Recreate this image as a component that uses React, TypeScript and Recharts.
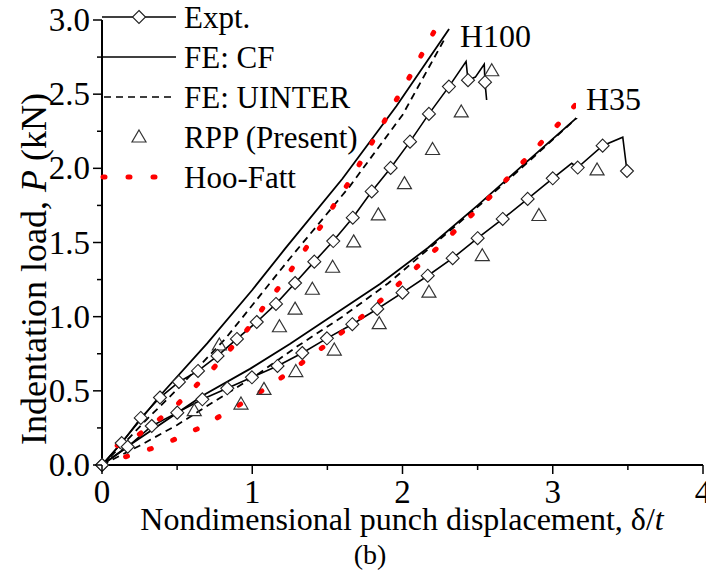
import React from 'react'
import { ComposedChart, Line, Scatter, XAxis, YAxis } from 'recharts'

type Pt = [number, number]

// H100 honeycomb
const h100ExptMarks: Pt[] = [
  [0, 0], [0.131, 0.148], [0.258, 0.317], [0.386, 0.455], [0.512, 0.56], [0.639, 0.634],
  [0.769, 0.735], [0.898, 0.85], [1.03, 0.964], [1.158, 1.086], [1.285, 1.227], [1.413, 1.371],
  [1.539, 1.51], [1.669, 1.667], [1.795, 1.844], [1.921, 2.003], [2.05, 2.18], [2.176, 2.367],
  [2.309, 2.551], [2.436, 2.594], [2.549, 2.581],
]
const h100ExptCurve: Pt[] = [
  [0, 0], [0.131, 0.148], [0.258, 0.317], [0.386, 0.455], [0.512, 0.56], [0.639, 0.634],
  [0.769, 0.735], [0.898, 0.85], [1.03, 0.964], [1.158, 1.086], [1.285, 1.227], [1.413, 1.371],
  [1.539, 1.51], [1.669, 1.667], [1.795, 1.844], [1.921, 2.003], [2.05, 2.18], [2.176, 2.367],
  [2.309, 2.551], [2.423, 2.72], [2.436, 2.594], [2.485, 2.615], [2.544, 2.702], [2.549, 2.581],
  [2.56, 2.461],
]
const h100CF: Pt[] = [
  [0, 0], [0.13, 0.15], [0.26, 0.31], [0.38, 0.46], [0.7, 0.82], [1.0, 1.18], [1.22, 1.46],
  [1.6, 1.93], [1.96, 2.42], [2.31, 2.94],
]
const h100Uinter: Pt[] = [
  [0, 0], [0.15, 0.15], [0.3, 0.31], [0.463, 0.472], [0.82, 0.85], [1.24, 1.38], [1.65, 1.88],
  [2.0, 2.36], [2.29, 2.89],
]
const h100RPP: Pt[] = [
  [0.781, 0.809], [1.181, 0.932], [1.285, 1.051], [1.4, 1.185], [1.535, 1.333], [1.675, 1.504],
  [1.839, 1.686], [2.013, 1.897], [2.2, 2.127], [2.391, 2.38], [2.594, 2.658],
]
const h100HooFatt: Pt[] = [
  [0, 0], [0.08, 0.12], [0.238, 0.2], [0.375, 0.303], [0.504, 0.411], [0.624, 0.533],
  [0.741, 0.652], [0.859, 0.787], [0.97, 0.917], [1.07, 1.057], [1.178, 1.198], [1.273, 1.337],
  [1.369, 1.479], [1.466, 1.623], [1.551, 1.764], [1.646, 1.91], [1.732, 2.061], [1.817, 2.208],
  [1.901, 2.356], [1.983, 2.506], [2.068, 2.652], [2.15, 2.81], [2.228, 2.955],
]

// H35 honeycomb
const h35ExptMarks: Pt[] = [
  [0, 0], [0.171, 0.123], [0.331, 0.263], [0.501, 0.353], [0.668, 0.443], [0.834, 0.517],
  [0.998, 0.591], [1.168, 0.668], [1.333, 0.755], [1.497, 0.854], [1.666, 0.949], [1.832, 1.052],
  [2.0, 1.162], [2.168, 1.276], [2.334, 1.394], [2.5, 1.529], [2.667, 1.659], [2.833, 1.794],
  [3.0, 1.933], [3.166, 2.005], [3.332, 2.153], [3.494, 1.982],
]
const h35ExptCurve: Pt[] = [
  [0, 0], [0.171, 0.123], [0.331, 0.263], [0.501, 0.353], [0.668, 0.443], [0.834, 0.517],
  [0.998, 0.591], [1.168, 0.668], [1.333, 0.755], [1.497, 0.854], [1.666, 0.949], [1.832, 1.052],
  [2.0, 1.162], [2.168, 1.276], [2.334, 1.394], [2.5, 1.529], [2.667, 1.659], [2.833, 1.794],
  [3.0, 1.933], [3.126, 2.034], [3.166, 2.005], [3.332, 2.153], [3.466, 2.21], [3.494, 1.982],
]
const h35CF: Pt[] = [
  [0, 0], [0.17, 0.125], [0.5, 0.35], [0.674, 0.47], [0.985, 0.648], [1.25, 0.815], [1.5, 0.985],
  [1.85, 1.22], [2.17, 1.465], [2.5, 1.75], [2.8, 2.02], [3.17, 2.35],
]
const h35Uinter: Pt[] = [
  [0, 0], [0.25, 0.13], [0.5, 0.27], [0.75, 0.43], [1.03, 0.607], [1.3, 0.8], [1.6, 1.0],
  [1.905, 1.225], [2.2, 1.48], [2.5, 1.74], [2.8, 2.01], [3.16, 2.34],
]
const h35RPP: Pt[] = [
  [0.614, 0.366], [0.925, 0.411], [1.078, 0.51], [1.29, 0.63], [1.546, 0.775], [1.845, 0.953],
  [2.176, 1.165], [2.531, 1.411], [2.908, 1.682], [3.295, 1.989],
]
const h35HooFatt: Pt[] = [
  [0, 0], [0.053, 0.022], [0.208, 0.072], [0.368, 0.123], [0.526, 0.191], [0.674, 0.263],
  [0.819, 0.349], [0.97, 0.438], [1.107, 0.528], [1.245, 0.625], [1.378, 0.724], [1.511, 0.825],
  [1.639, 0.928], [1.772, 1.034], [1.895, 1.146], [2.017, 1.259], [2.138, 1.376], [2.265, 1.495],
  [2.389, 1.618], [2.509, 1.731], [2.631, 1.859], [2.747, 1.984], [2.864, 2.109], [2.982, 2.237],
  [3.093, 2.36], [3.33, 2.64],
]

const xTicks = [0, 0.5, 1, 1.5, 2, 2.5, 3, 3.5, 4]
const yTicks = [0, 0.25, 0.5, 0.75, 1, 1.25, 1.5, 1.75, 2, 2.25, 2.5, 2.75, 3]
const legendNames = ['Expt.', 'FE: CF', 'FE: UINTER', 'RPP (Present)', 'Hoo-Fatt']

const rows = (pts: Pt[]) => pts.map(([x, y]) => ({ x, y }))
const FONT = "'Liberation Serif', 'Times New Roman', serif"
const RED_DOTS = { stroke: '#ff0000', strokeWidth: 5, strokeDasharray: '2 23', strokeLinecap: 'round' as const }

const diamondPath = (cx: number, cy: number, r = 6.5) =>
  `M${cx},${cy - r}L${cx + r},${cy}L${cx},${cy + r}L${cx - r},${cy}Z`
const trianglePath = (cx: number, cy: number) =>
  `M${cx},${cy - 7}L${cx + 7},${cy + 5}L${cx - 7},${cy + 5}Z`

const DiamondShape = (p: any) => <path d={diamondPath(p.cx, p.cy)} fill="#fff" stroke="#222" strokeWidth={1.1} />
const TriangleShape = (p: any) => <path d={trianglePath(p.cx, p.cy)} fill="none" stroke="#333" strokeWidth={1.2} />

const XTick = (p: any) => {
  const v = p.payload.value
  const major = Number.isInteger(v)
  return (
    <g>
      <line x1={p.x} x2={p.x} y1={p.y} y2={p.y + (major ? 9 : 5)} stroke="#000" strokeWidth={1.5} />
      {major && (
        <text x={p.x} y={p.y + 38} textAnchor="middle" fontSize={33} fontFamily={FONT} fill="#000">{v}</text>
      )}
    </g>
  )
}

const YTick = (p: any) => {
  const v = p.payload.value
  const major = Math.abs(v * 2 - Math.round(v * 2)) < 1e-6
  return (
    <g>
      <line x1={p.x} x2={p.x - (major ? 9 : 5)} y1={p.y} y2={p.y} stroke="#000" strokeWidth={1.5} />
      {major && (
        <text x={p.x - 12} y={p.y + 11} textAnchor="end" fontSize={33} fontFamily={FONT} fill="#000">{v.toFixed(1)}</text>
      )}
    </g>
  )
}

function Overlay() {
  const ly = [17, 57, 97, 137, 177]
  return (
    <svg width={706} height={575} style={{ position: 'absolute', left: 0, top: 0, pointerEvents: 'none' }}>
      <g fontFamily={FONT} fontSize={31} fill="#000">
        <line x1={102} x2={176} y1={ly[0]} y2={ly[0]} stroke="#000" strokeWidth={1.6} />
        <path d={diamondPath(139, ly[0])} fill="#fff" stroke="#222" strokeWidth={1.1} />
        <line x1={102} x2={176} y1={ly[1]} y2={ly[1]} stroke="#000" strokeWidth={1.6} />
        <line x1={104} x2={176} y1={ly[2]} y2={ly[2]} stroke="#000" strokeWidth={1.6} strokeDasharray="7 5" />
        <path d={trianglePath(139, ly[3])} fill="none" stroke="#333" strokeWidth={1.2} />
        <line x1={103} x2={160} y1={ly[4]} y2={ly[4]} {...RED_DOTS} />
        {legendNames.map((n, i) => (
          <text key={n} x={184} y={ly[i] + 11}>{n}</text>
        ))}
        <rect x={454} y={17} width={81} height={36} fill="#fff" />
        <text x={460} y={47} fontSize={32}>H100</text>
        <rect x={576} y={78} width={69} height={40} fill="#fff" />
        <text x={586} y={110} fontSize={32}>H35</text>
        <text transform="translate(46,269) rotate(-90)" textAnchor="middle" fontSize={36}>
          Indentation load, <tspan fontStyle="italic">P</tspan> (kN)
        </text>
        <text x={402} y={530} textAnchor="middle" fontSize={32}>
          Nondimensional punch displacement, δ/<tspan fontStyle="italic">t</tspan>
        </text>
        <text x={370} y={564} textAnchor="middle" fontSize={28}>(b)</text>
      </g>
    </svg>
  )
}

export default function App() {
  return (
    <div style={{ position: 'absolute', left: 0, top: 0, width: 706, height: 575, background: '#fff' }}>
      <ComposedChart width={706} height={575} margin={{ top: 20, right: 3, bottom: 70, left: 2 }}>
        <XAxis
          dataKey="x" type="number" domain={[0, 4]} ticks={xTicks} interval={0}
          height={40} tickSize={0} tickMargin={0} tick={<XTick />}
          axisLine={{ stroke: '#000', strokeWidth: 2 }}
        />
        <YAxis
          dataKey="y" type="number" domain={[0, 3]} ticks={yTicks} interval={0}
          width={100} tickSize={0} tickMargin={0} tick={<YTick />}
          axisLine={{ stroke: '#000', strokeWidth: 2 }}
        />
        <Line data={rows(h100CF)} dataKey="y" stroke="#000" strokeWidth={1.8} dot={false} isAnimationActive={false} />
        <Line data={rows(h35CF)} dataKey="y" stroke="#000" strokeWidth={1.8} dot={false} isAnimationActive={false} />
        <Line data={rows(h100Uinter)} dataKey="y" stroke="#000" strokeWidth={1.8} strokeDasharray="7 5" dot={false} isAnimationActive={false} />
        <Line data={rows(h35Uinter)} dataKey="y" stroke="#000" strokeWidth={1.8} strokeDasharray="7 5" dot={false} isAnimationActive={false} />
        <Line data={rows(h100ExptCurve)} dataKey="y" stroke="#000" strokeWidth={1.6} dot={false} isAnimationActive={false} />
        <Line data={rows(h35ExptCurve)} dataKey="y" stroke="#000" strokeWidth={1.6} dot={false} isAnimationActive={false} />
        <Scatter data={rows(h100RPP)} shape={<TriangleShape />} isAnimationActive={false} />
        <Scatter data={rows(h35RPP)} shape={<TriangleShape />} isAnimationActive={false} />
        <Scatter data={rows(h100ExptMarks)} shape={<DiamondShape />} isAnimationActive={false} />
        <Scatter data={rows(h35ExptMarks)} shape={<DiamondShape />} isAnimationActive={false} />
        <Line data={rows(h100HooFatt)} dataKey="y" {...RED_DOTS} dot={false} isAnimationActive={false} />
        <Line data={rows(h35HooFatt)} dataKey="y" {...RED_DOTS} dot={false} isAnimationActive={false} />
      </ComposedChart>
      <Overlay />
    </div>
  )
}
